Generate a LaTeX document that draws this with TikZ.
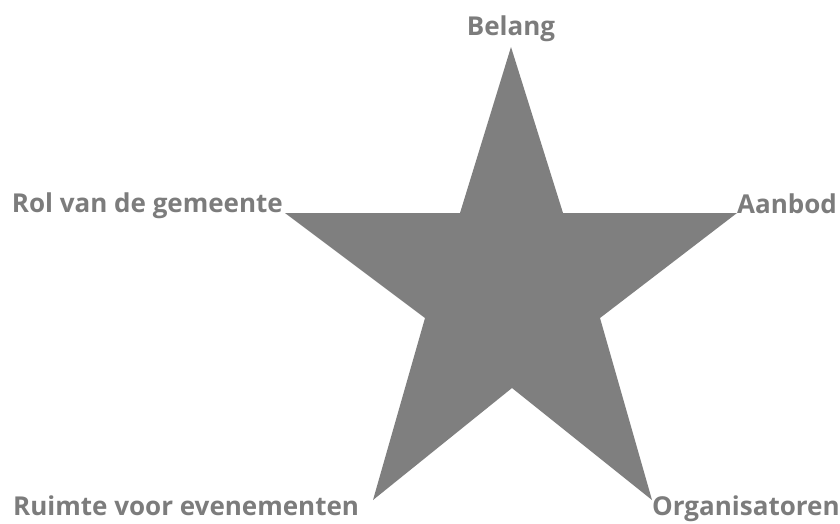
\documentclass[tikz,border=0pt]{standalone}
\usepackage{fontspec}
\setmainfont{Open Sans}
\begin{document}
\begin{tikzpicture}[x=1pt,y=-1pt,
  lbl/.style={inner sep=0pt,font=\fontsize{26}{28}\selectfont\bfseries,text=labelgray},
  starfill/.style={fill=stargray,draw=none}]
\definecolor{labelgray}{HTML}{7C7C7C}
\definecolor{stargray}{HTML}{7F7F7F}
\useasboundingbox (0,0) rectangle (840,523);
% outer points
\coordinate (T) at (511,47);
\coordinate (L) at (285,213);
\coordinate (R) at (737,213);
\coordinate (BL) at (373,500);
\coordinate (BR) at (652,500);
% inner points
\coordinate (iTL) at (460,213);
\coordinate (iTR) at (563,213);
\coordinate (iL) at (425,318);
\coordinate (iR) at (600,318);
\coordinate (iB) at (512,388);
\path[starfill] (T) -- (iTR) -- (R) -- (iR) -- (BR) -- (iB) -- (BL) -- (iL) -- (L) -- (iTL) -- cycle;
% labels
\node[lbl,anchor=base] (belang) at (511,35) {Belang};
\node[lbl,anchor=base east] (rol) at (283,212) {Rol van de gemeente};
\node[lbl,anchor=base west] (aanbod) at (737,213) {Aanbod};
\node[lbl,anchor=base west] (ruimte) at (13,515) {Ruimte voor evenementen};
\node[lbl,anchor=base west] (org) at (652,515) {Organisatoren};
\end{tikzpicture}
\end{document}
